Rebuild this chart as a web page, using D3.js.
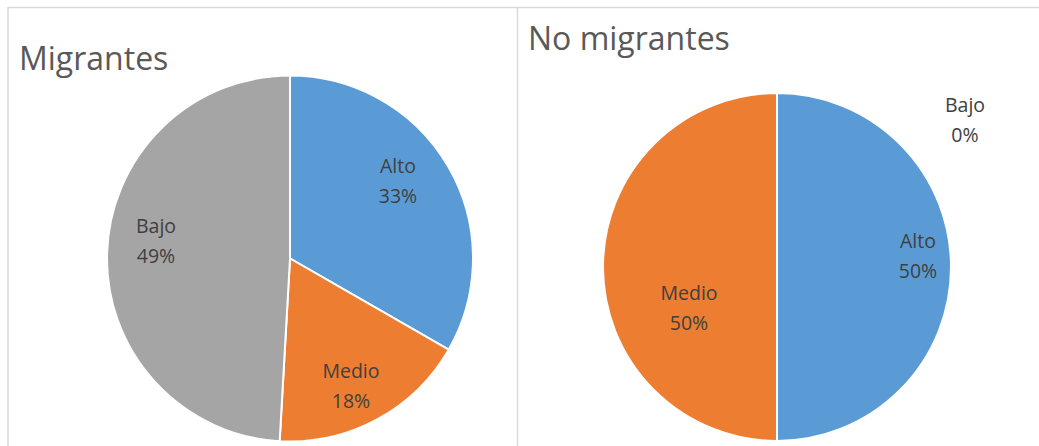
<!DOCTYPE html>
<html>
<head>
<meta charset="utf-8">
<script src="https://cdn.jsdelivr.net/npm/d3@7"></script>
<style>
  body { margin: 0; background: #fff; }
  svg { display: block; font-family: "Open Sans", sans-serif; }
</style>
</head>
<body>
<div id="chart"></div>
<script>
// Data
var categories = ["Alto", "Medio", "Bajo"];
var migrantes = [33.3, 17.6, 49.1];
var noMigrantes = [50, 50, 0];
var colors = ["#5B9BD5", "#ED7D31", "#A5A5A5"];

var W = 1039, H = 446;

var svg = d3.select("#chart").append("svg")
  .attr("width", W)
  .attr("height", H);

// Panel borders
svg.append("line").attr("x1", 8).attr("x2", W).attr("y1", 7.5).attr("y2", 7.5)
  .attr("stroke", "#d9d9d9").attr("stroke-width", 1.5);
svg.append("line").attr("x1", 8).attr("x2", 8).attr("y1", 7).attr("y2", H)
  .attr("stroke", "#d9d9d9").attr("stroke-width", 1.5);
svg.append("line").attr("x1", 517.5).attr("x2", 517.5).attr("y1", 7).attr("y2", H)
  .attr("stroke", "#d9d9d9").attr("stroke-width", 1.5);

function drawPie(opts){
  var g = svg.append("g");

  g.append("text")
    .attr("x", opts.titleX)
    .attr("y", opts.titleY)
    .attr("fill", "#595959")
    .attr("font-size", "32px")
    .text(opts.title);

  var data = categories.map(function(c, i){ return {name: c, value: opts.values[i], color: colors[i]}; });
  var total = d3.sum(opts.values);

  var pie = d3.pie().sort(null).value(function(d){ return d.value; });
  var arc = d3.arc().innerRadius(0).outerRadius(opts.r);

  var pg = g.append("g").attr("transform", "translate(" + opts.cx + "," + opts.cy + ")");

  pg.selectAll("path").data(pie(data)).enter().append("path")
    .attr("d", arc)
    .attr("fill", function(d){ return d.data.color; })
    .attr("stroke", "#fff")
    .attr("stroke-width", 2);

  var arcs = pie(data);
  arcs.forEach(function(a, i){
    var pos = opts.labelPos[i];
    var t = pg.append("text")
      .attr("text-anchor", "middle")
      .attr("fill", "#404040")
      .attr("font-size", "19.5px");
    t.append("tspan").attr("x", pos[0]).attr("y", pos[1]).text(a.data.name);
    t.append("tspan").attr("x", pos[0]).attr("y", pos[1] + 30)
      .text(Math.round(a.data.value / total * 100) + "%");
  });
}

// label offsets from pie centre
drawPie({
  title: "Migrantes", titleX: 19, titleY: 70,
  values: migrantes, cx: 290, cy: 258.5, r: 183,
  labelPos: [[108, -86], [61, 119], [-134, -26]]
});

drawPie({
  title: "No migrantes", titleX: 528, titleY: 50,
  values: noMigrantes, cx: 777, cy: 267, r: 174,
  labelPos: [[141, -19], [-88, 33], [188, -155]]
});
</script>
</body>
</html>
